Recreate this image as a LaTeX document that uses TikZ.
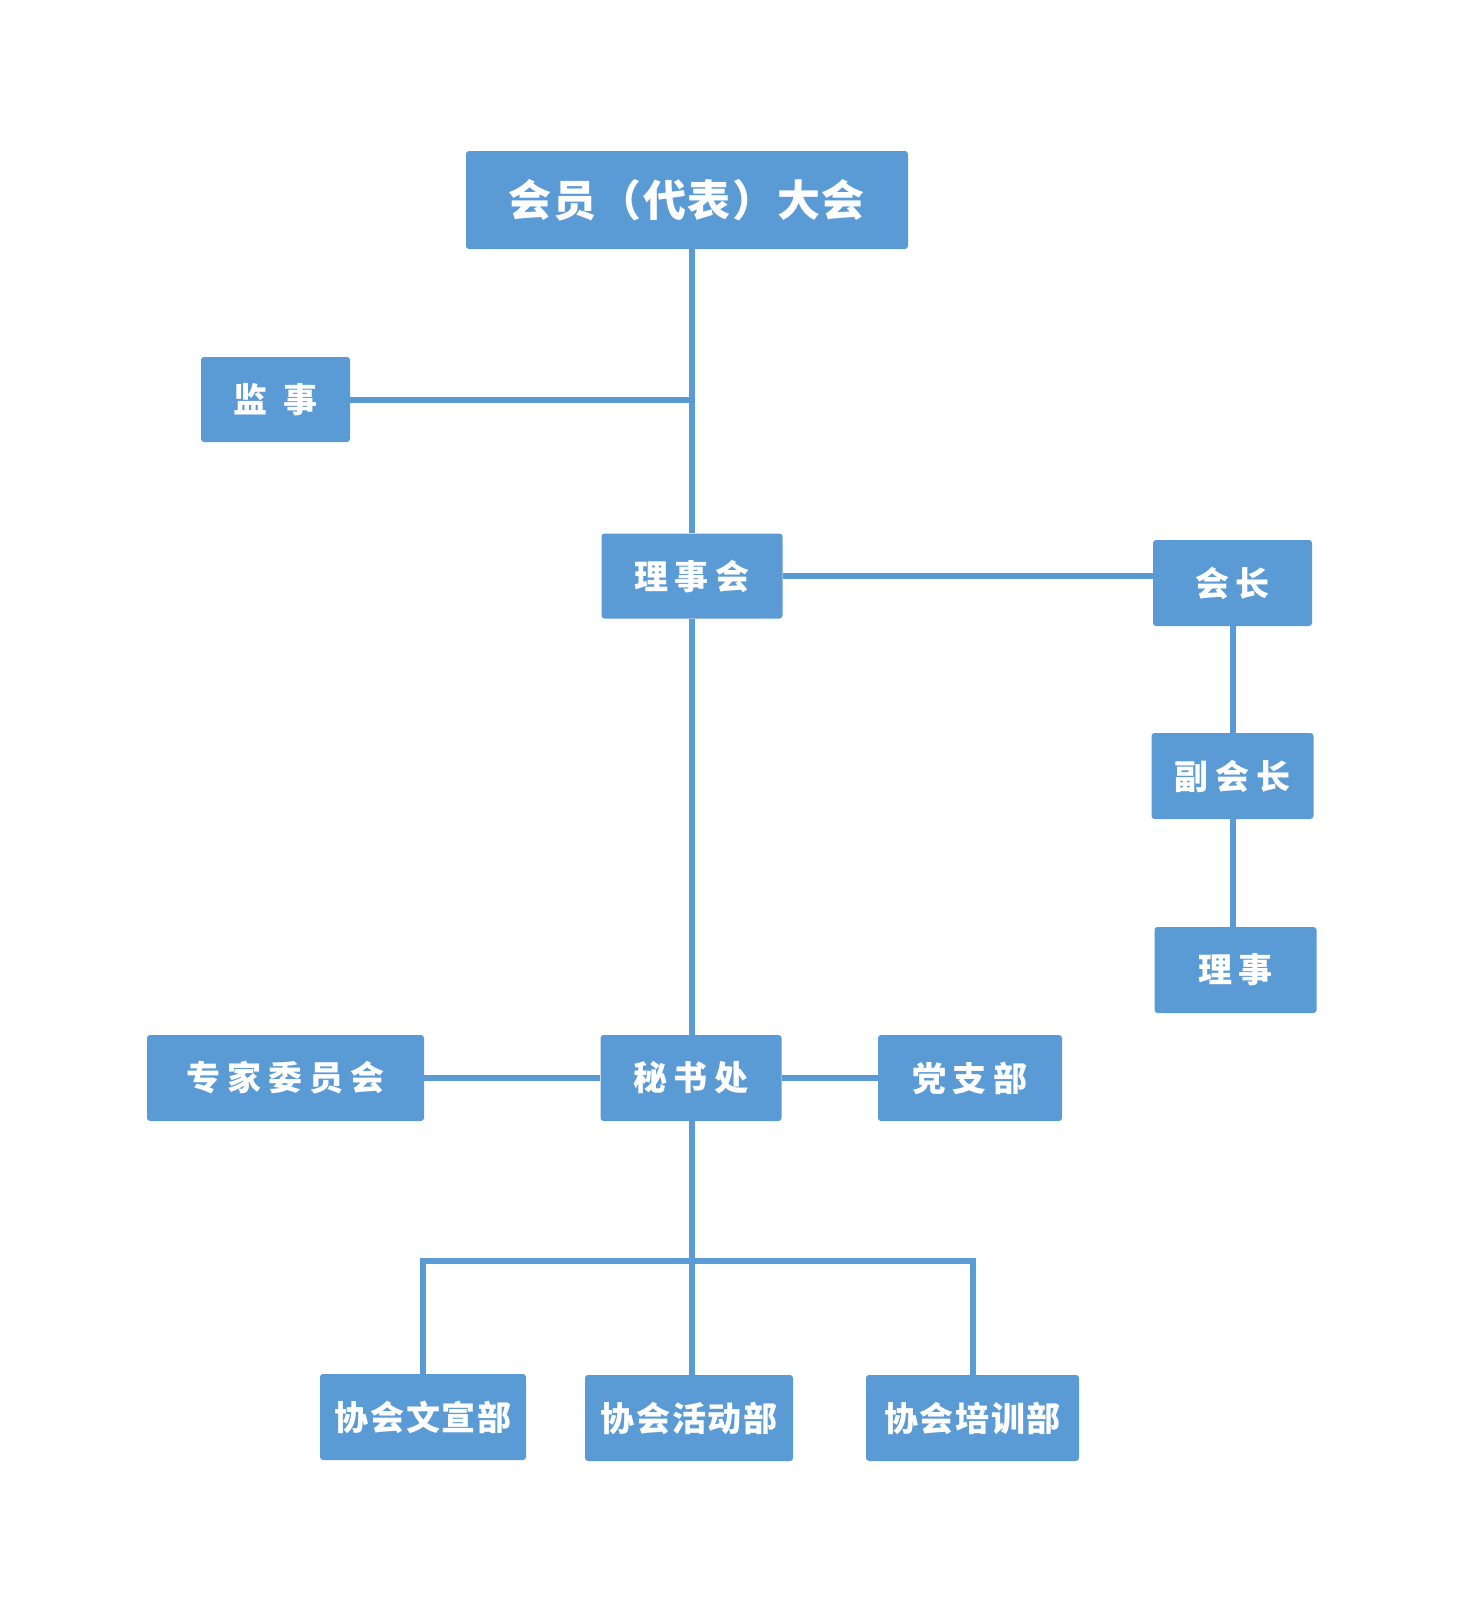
\documentclass[tikz,border=0pt]{standalone}
\usepackage{fontspec}
\usepackage{tikz}
\usetikzlibrary{positioning}
\newfontfamily\cjk{Noto Sans CJK SC}
\definecolor{orgblue}{HTML}{5B9BD5}
\tikzset{%
	unit/.style     = {fill=orgblue, rounded corners=3pt, text=white, inner sep=0pt, minimum height=86pt, text centered},
	wide/.style     = {font={\cjk\bfseries\fontsize{34}{40}\selectfont\addfontfeature{LetterSpace=#1}}},
	link/.style     = {draw=orgblue, line width=6pt},
}

\begin{document}
\begin{tikzpicture}[x=1pt,y=-1pt]
	\useasboundingbox (0,0) rectangle (1475,1600);
	\node [unit,minimum width=442pt,minimum height=98pt,font={\cjk\bfseries\fontsize{43}{50}\selectfont\addfontfeature{LetterSpace=4}}] (dahui) at (687,200) {会员（代表）大会};
	\node [unit,wide=47,minimum width=149pt,minimum height=85pt] (jianshi) at (275.5,399.5) {监事};
	\node [unit,wide=20,minimum width=181pt,minimum height=85pt] (lishihui) at (692,576) {理事会};
	\node [unit,wide=20,minimum width=159pt] (huizhang) at (1232.5,583) {会长};
	\node [unit,wide=20,minimum width=162pt] (fuhuizhang) [below of=huizhang,node distance=193pt] {副会长};
	\node [unit,wide=20,minimum width=162pt] (lishi) [below of=fuhuizhang,node distance=194pt,xshift=3pt] {理事};
	\node [unit,wide=20,minimum width=181pt] (mishu) at (691,1078) {秘书处};
	\node [unit,wide=20,minimum width=277pt] (zhuanjia) [left of=mishu,node distance=405.5pt] {专家委员会};
	\node [unit,wide=20,minimum width=184pt] (dang) [right of=mishu,node distance=279pt] {党支部};
	\node [unit,wide=5,minimum width=208pt] (huodong) at (689,1418) {协会活动部};
	\node [unit,wide=5,minimum width=206pt] (wenxuan) [left of=huodong,node distance=266pt,yshift=1pt] {协会文宣部};
	\node [unit,wide=5,minimum width=213pt] (peixun) [right of=huodong,node distance=283.5pt] {协会培训部};
	\coordinate (bus) at (692,1261);

	\draw[link] (dahui.south -| lishihui) -- (lishihui.north);
	\draw[link] (jianshi.east) -- (jianshi.east -| lishihui);
	\draw[link] (lishihui.east) -- (lishihui.east -| huizhang.west);
	\draw[link] (huizhang.south) -- (fuhuizhang.north);
	\draw[link] (fuhuizhang.south) -- (fuhuizhang.south |- lishi.north);
	\draw[link] (lishihui.south) -- (lishihui.south |- mishu.north);
	\draw[link] (zhuanjia.east) -- (mishu.west);
	\draw[link] (mishu.east) -- (dang.west);
	\draw[link] (mishu.south -| bus) -- (bus) -- (bus |- huodong.north);
	\draw[link] (wenxuan.north) |- (bus) -| (peixun.north);
\end{tikzpicture}
\end{document}
